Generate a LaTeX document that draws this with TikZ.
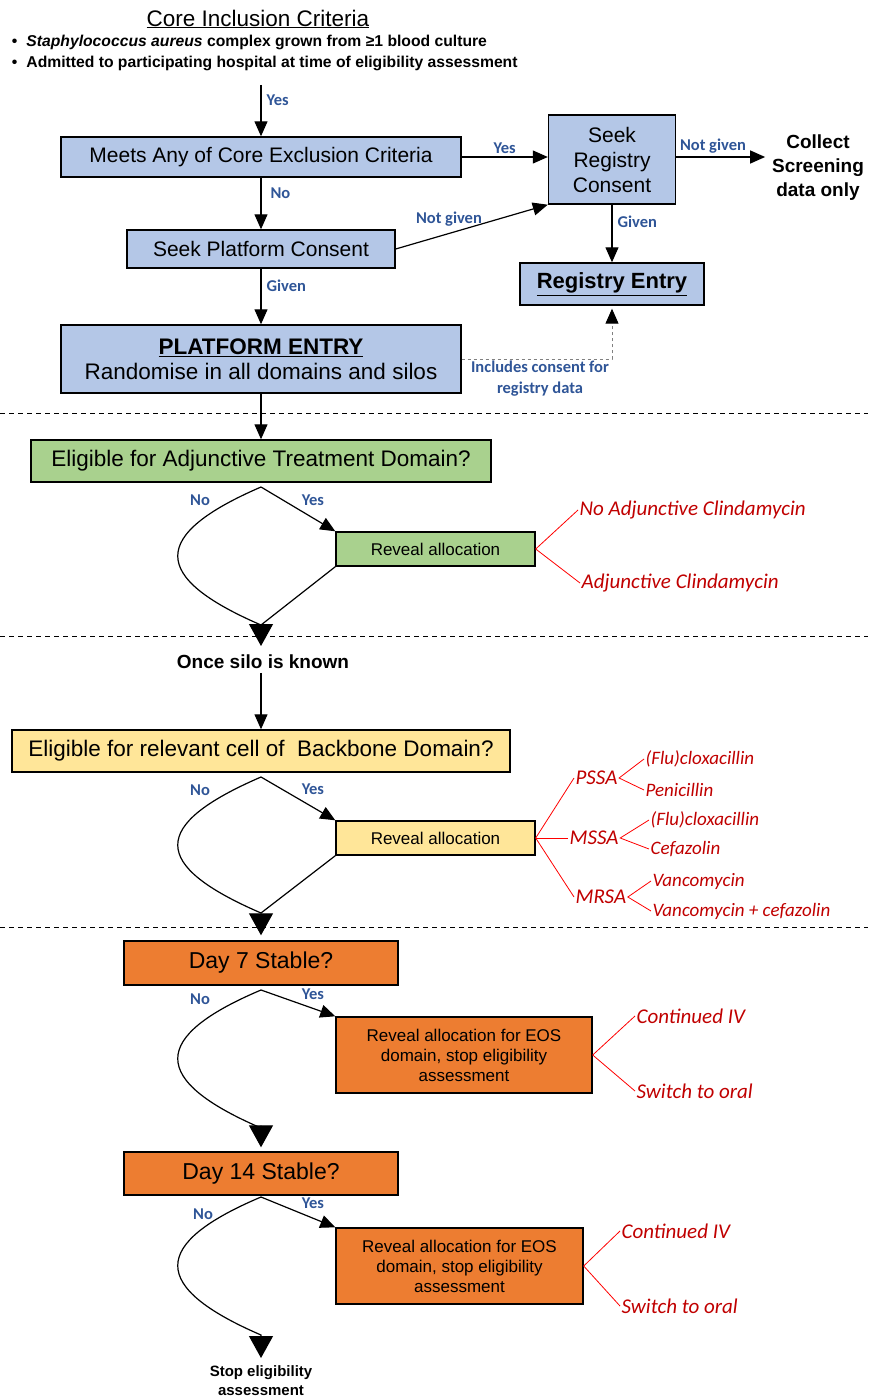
\documentclass[tikz,border=0pt]{standalone}
\usepackage{fontspec}
\setmainfont{Liberation Sans}
\newfontfamily\cali{Carlito}
\usetikzlibrary{arrows.meta}
\definecolor{boxblue}{RGB}{180,199,231}
\definecolor{boxgreen}{RGB}{169,209,142}
\definecolor{boxyellow}{RGB}{255,230,153}
\definecolor{boxorange}{RGB}{237,125,49}
\definecolor{lblblue}{RGB}{47,85,151}
\definecolor{armred}{RGB}{192,0,0}
\newcommand{\fs}[2]{\fontsize{#1}{#2}\selectfont}
\tikzset{
  box/.style={draw,line width=1.4pt,inner sep=2pt,align=center,font=\fs{21}{25}},
  blu/.style={box,fill=boxblue},
  grn/.style={box,fill=boxgreen},
  ylw/.style={box,fill=boxyellow},
  org/.style={box,fill=boxorange},
  lbl/.style={text=lblblue,font=\cali\bfseries\fs{16.5}{19},inner sep=1pt},
  arm/.style={text=armred,font=\cali\itshape\fs{21}{24},anchor=west,inner sep=1pt},
  subarm/.style={arm,font=\cali\itshape\fs{19}{22}},
  armline/.style={red,line width=0.8pt},
  big/.style={-{Triangle[length=22pt,width=24pt]}},
}

\begin{document}
\begin{tikzpicture}[x=1pt,y=-1pt,line width=1.2pt,>={Triangle[length=15pt,width=13pt]}]
   \useasboundingbox (0,0) rectangle (868,1399);
   % inclusion
   \node[font=\fs{22.5}{26}] (title) at (258,19) {\underline{Core Inclusion Criteria}};
   \node[anchor=west,font=\bfseries\fs{15.7}{18}] (inc1) at (8,42) {\textbullet\hspace{9pt}\textit{Staphylococcus aureus} complex grown from ≥1 blood culture};
   \node[anchor=west,font=\bfseries\fs{15.7}{18}] (inc2) at (8,63) {\textbullet\hspace{9pt}Admitted to participating hospital at time of eligibility assessment};
   \coordinate (incl) at (261,85);
   \node[blu,minimum width=400pt,minimum height=40pt] (excl) at (261,157) {Meets Any of Core Exclusion Criteria};
   \node[blu,minimum width=127pt,minimum height=89pt] (regcons) at (612,159.5) {Seek\\Registry\\Consent};
   \node[font=\bfseries\fs{19}{24},align=center] (collect) at (818,168) {Collect\\Screening\\data only};
   \node[blu,minimum width=268pt,minimum height=38pt] (platcons) at (261,249) {Seek Platform Consent};
   \node[blu,minimum width=184pt,minimum height=42pt,font=\bfseries\fs{22}{25}] (regentry) at (612,284) {\underline{Registry Entry}};
   \node[blu,minimum width=400pt,minimum height=68pt,font=\fs{22.5}{25}] (platentry) at (261,359) {\textbf{\underline{PLATFORM ENTRY}}\\Randomise in all domains and silos};
   \draw[->] (incl) -- (excl) node[lbl,pos=0.3,right=4pt] {Yes};
   \draw[->] (excl.east) -- (excl.east -| regcons.west) node[lbl,midway,above=2pt] {Yes};
   \draw[->,shorten >=3pt] (excl.east -| regcons.east) -- (excl.east -| collect.west) node[lbl,pos=0.4,above=2pt] {Not given};
   \draw[->] (excl) -- (platcons) node[lbl,pos=0.3,right=8pt] {No};
   \draw[->] (platcons.east) -- (regcons.south west) node[lbl,pos=0.35,above=6pt] {Not given};
   \draw[->] (regcons) -- (regentry) node[lbl,pos=0.3,right=4pt] {Given};
   \draw[->] (platcons) -- (platentry) node[lbl,pos=0.3,right=4pt] {Given};
   \draw[gray,dashed,line width=1pt,-{Triangle[length=15pt,width=13pt,black]},shorten >=3pt] (platentry.east) -- (platentry.east -| regentry.south) -- (regentry.south);
   \node[lbl,align=center,font=\cali\bfseries\fs{16.5}{21}] (consent) at (540,379) {Includes consent for\\registry data};
   \foreach \y in {413,636,927} {
    \draw[dashed,line width=1pt,dash pattern=on 5pt off 4pt] (0,\y) -- (868,\y);
   }
   % adjunctive domain
   \node[grn,minimum width=460pt,minimum height=42pt,font=\fs{22.5}{26}] (adjq) at (261,461) {Eligible for Adjunctive Treatment Domain?};
   \node[grn,minimum width=199pt,minimum height=34pt,font=\fs{17}{20}] (adjrev) at (435.5,549) {Reveal allocation};
   \coordinate (f1) at (261,487);
   \coordinate (m1) at (261,625);
   \coordinate (t1) at (261,646);
   \draw[->] (platentry) -- (adjq);
   \draw[->] (f1) -- (adjrev.north west) node[lbl,midway,above right=2pt] {Yes};
   \draw[big] (f1) .. controls (150,535) and (150,577) .. (m1) -- (t1);
   \draw (adjrev.south west) -- (m1);
   \node[lbl] (no1) at (200,500) {No};
   \node[arm] (adj1) at (578,510) {No Adjunctive Clindamycin};
   \node[arm] (adj2) at (580,583) {Adjunctive Clindamycin};
   \foreach \a in {adj1,adj2} {
    \draw[armline] (adjrev.east) -- (\a.west);
   }
   % backbone domain
   \node[font=\bfseries\fs{19}{23}] (silo) at (263,662) {Once silo is known};
   \node[ylw,minimum width=498pt,minimum height=42pt,font=\fs{22.5}{26}] (bbq) at (261,751) {Eligible for relevant cell of~~Backbone Domain?};
   \node[ylw,minimum width=199pt,minimum height=34pt,font=\fs{17}{20}] (bbrev) at (435.5,838) {Reveal allocation};
   \coordinate (f2) at (261,777);
   \coordinate (m2) at (261,913);
   \draw[->] (silo.south -| bbq.north) -- (bbq);
   \draw[->] (f2) -- (bbrev.north west) node[lbl,midway,above right=2pt] {Yes};
   \node[lbl] (no2) at (200,790) {No};
   \draw (bbrev.south west) -- (m2);
   \node[arm] (pssa) at (574,778) {PSSA};
   \node[arm] (mssa) at (568,838) {MSSA};
   \node[arm] (mrsa) at (574,897) {MRSA};
   \node[subarm] (flu1) at (644,759) {(Flu)cloxacillin};
   \node[subarm] (pen) at (644,790) {Penicillin};
   \node[subarm] (flu2) at (649,820) {(Flu)cloxacillin};
   \node[subarm] (cef) at (649,849) {Cefazolin};
   \node[subarm] (van1) at (651,881) {Vancomycin};
   \node[subarm] (van2) at (651,911) {Vancomycin + cefazolin};
   \foreach \a in {pssa,mssa,mrsa} {
    \draw[armline] (bbrev.east) -- (\a.west);
   }
   \draw[armline] (flu1.west) -- (pssa.east) -- (pen.west);
   \draw[armline] (flu2.west) -- (mssa.east) -- (cef.west);
   \draw[armline] (van1.west) -- (mrsa.east) -- (van2.west);
   % end of treatment
   \node[org,minimum width=274pt,minimum height=44pt,font=\fs{23}{26}] (d7) at (261,963) {Day 7 Stable?};
   \node[org,minimum width=256pt,minimum height=76pt,font=\fs{17}{20}] (d7rev) at (464,1055) {Reveal allocation for EOS\\domain, stop eligibility\\assessment};
   \draw[big,shorten >=5pt] (f2) .. controls (150,825) and (150,865) .. (m2) -- (d7);
   \coordinate (f3) at (261,990);
   \coordinate (m3) at (261,1128);
   \draw[->] (f3) -- (d7rev.north west) node[lbl,midway,above right=2pt] {Yes};
   \node[lbl] (no3) at (200,999) {No};
   \node[arm] (cont1) at (635,1016) {Continued IV};
   \node[arm] (oral1) at (635,1091) {Switch to oral};
   \foreach \a in {cont1,oral1} {
    \draw[armline] (d7rev.east) -- (\a.west);
   }
   \node[org,minimum width=274pt,minimum height=43pt,font=\fs{23}{26}] (d14) at (261,1173.5) {Day 14 Stable?};
   \node[org,minimum width=247pt,minimum height=76pt,font=\fs{17}{20}] (d14rev) at (459.5,1266) {Reveal allocation for EOS\\domain, stop eligibility\\assessment};
   \draw[big,shorten >=4pt] (f3) .. controls (150,1037) and (150,1080) .. (m3) -- (d14);
   \coordinate (f4) at (261,1197);
   \coordinate (m4) at (261,1335);
   \coordinate (t4) at (261,1358);
   \draw[->] (f4) -- (d14rev.north west) node[lbl,midway,above right=2pt] {Yes};
   \node[lbl] (no4) at (203,1214) {No};
   \draw[big] (f4) .. controls (150,1244) and (150,1287) .. (m4) -- (t4);
   \node[arm] (cont2) at (620,1231) {Continued IV};
   \node[arm] (oral2) at (620,1306) {Switch to oral};
   \foreach \a in {cont2,oral2} {
    \draw[armline] (d14rev.east) -- (\a.west);
   }
   \node[font=\bfseries\fs{15}{19},align=center] (stop) at (261,1381) {Stop eligibility\\assessment};
\end{tikzpicture}
\end{document}
